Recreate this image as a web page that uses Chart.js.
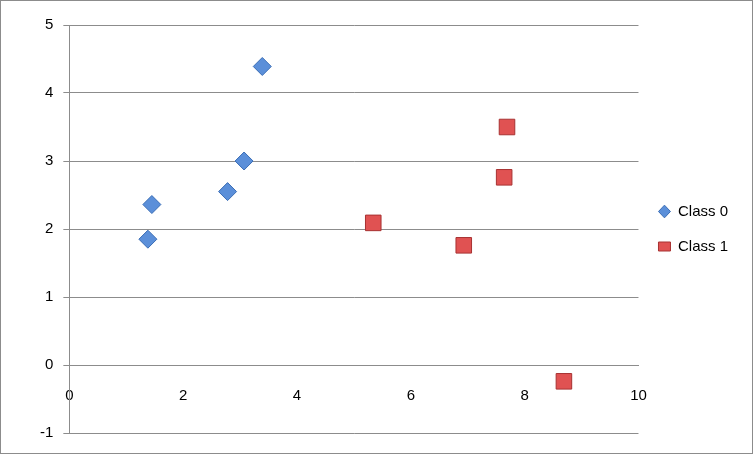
<!DOCTYPE html>
<html>
<head>
<script src="https://cdn.jsdelivr.net/npm/chart.js@4"></script>
<style>
  body { margin: 0; }
  #box { width: 751px; height: 452px; border: 1px solid #8c8c8c; }
</style>
</head>
<body>
<div id="box"><canvas id="chart" width="751" height="452"></canvas></div>
<script>
// Scatter values
const class0X = [1.38, 1.45, 2.78, 3.07, 3.39];
const class0Y = [1.85, 2.36, 2.55, 3.0, 4.39];
const class1X = [5.34, 6.93, 7.64, 7.69, 8.69];
const class1Y = [2.09, 1.76, 2.76, 3.5, -0.24];
const seriesNames = ['Class 0', 'Class 1'];

const toPoints = (xs, ys) => xs.map((x, i) => ({ x: x, y: ys[i] }));

new Chart(document.getElementById('chart'), {
  type: 'scatter',
  data: {
    datasets: [{
      label: seriesNames[0],
      data: toPoints(class0X, class0Y),
      pointStyle: 'rectRot',
      pointRadius: 9,
      pointHoverRadius: 9,
      backgroundColor: '#5b8fd9',
      borderColor: '#3a6db5',
      borderWidth: 1
    }, {
      label: seriesNames[1],
      data: toPoints(class1X, class1Y),
      pointStyle: 'rect',
      pointRadius: 11,
      pointHoverRadius: 11,
      backgroundColor: '#e05252',
      borderColor: '#a83232',
      borderWidth: 1
    }]
  },
  options: {
    responsive: false,
    animation: false,
    layout: { padding: { top: 24, right: 14, bottom: 20, left: 29 } },
    scales: {
      x: {
        type: 'linear',
        min: 0, max: 10,
        position: { y: 0 },
        grid: { display: false, drawTicks: true },
        border: { color: '#8c8c8c' },
        ticks: { stepSize: 2, padding: 14, color: '#000', font: { size: 15, family: 'Liberation Sans' } }
      },
      y: {
        min: -1, max: 5,
        grid: { color: '#8c8c8c', tickLength: 6 },
        border: { color: '#8c8c8c' },
        ticks: { stepSize: 1, color: '#000', padding: 10, font: { size: 15, family: 'Liberation Sans' } }
      }
    },
    plugins: {
      legend: {
        position: 'right',
        labels: {
          usePointStyle: true,
          pointStyleWidth: 12,
          boxWidth: 9,
          boxHeight: 9,
          padding: 20,
          color: '#000',
          font: { size: 15, family: 'Liberation Sans' }
        }
      },
      tooltip: { enabled: false }
    }
  }
});
</script>
</body>
</html>
